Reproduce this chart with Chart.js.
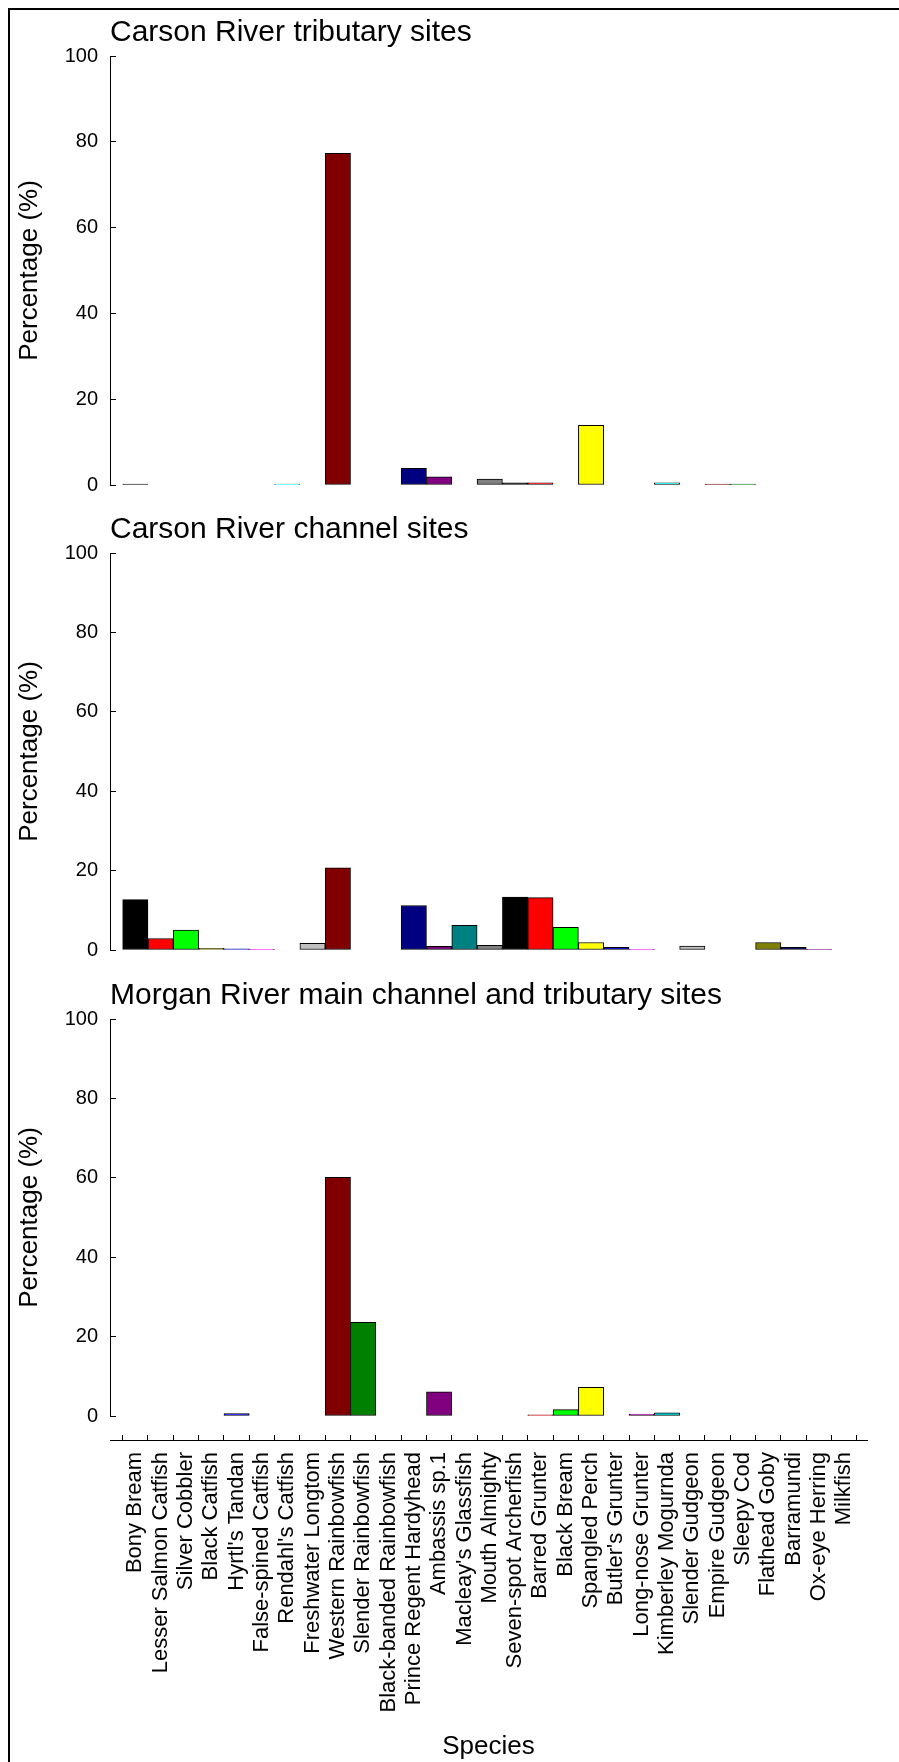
<!DOCTYPE html>
<html>
<head>
<meta charset="utf-8">
<script src="https://cdn.jsdelivr.net/npm/chart.js@4.4.1/dist/chart.umd.min.js"></script>
<style>
  body { margin: 0; background: #fff; }
  #page { position: relative; width: 899px; height: 1762px; overflow: hidden; background: #fff; }
  #frame { position: absolute; left: 8px; top: 8px; right: -20px; bottom: -20px; border-left: 2px solid #000; border-top: 2px solid #000; }
  canvas { position: absolute; left: 0; }
</style>
</head>
<body>
<div id="page">
  <div id="frame"></div>
  <canvas id="tributary" style="top:0px" width="899" height="515"></canvas>
  <canvas id="channel" style="top:515px" width="899" height="465"></canvas>
  <canvas id="morgan" style="top:980px" width="899" height="466"></canvas>
  <canvas id="axis" style="top:1432px" width="899" height="330"></canvas>
</div>
<script>
const species = [
  'Bony Bream', 'Lesser Salmon Catfish', 'Silver Cobbler', 'Black Catfish', "Hyrtl's Tandan",
  'False-spined Catfish', "Rendahl's Catfish", 'Freshwater Longtom', 'Western Rainbowfish', 'Slender Rainbowfish',
  'Black-banded Rainbowfish', 'Prince Regent Hardyhead', 'Ambassis sp.1', "Macleay's Glassfish", 'Mouth Almighty',
  'Seven-spot Archerfish', 'Barred Grunter', 'Black Bream', 'Spangled Perch', "Butler's Grunter",
  'Long-nose Grunter', 'Kimberley Mogurnda', 'Slender Gudgeon', 'Empire Gudgeon', 'Sleepy Cod',
  'Flathead Goby', 'Barramundi', 'Ox-eye Herring', 'Milkfish'
]

// percentages, one value per species
const tributaryValues = [0.2, 0, 0, 0, 0, 0, 0.2, 0, 77.3, 0, 0, 3.9, 1.9, 0, 1.4, 0.5, 0.5, 0, 13.9, 0, 0, 0.5, 0, 0.2, 0.2, 0, 0, 0, 0]
const channelValues = [12.7, 2.9, 5.0, 0.4, 0.3, 0.2, 0, 1.7, 20.7, 0, 0, 11.2, 0.9, 6.2, 1.2, 13.3, 13.2, 5.7, 1.9, 0.7, 0.2, 0, 1.0, 0, 0, 1.9, 0.7, 0.2, 0]
const morganValues = [0, 0, 0, 0, 0.6, 0, 0, 0, 60.1, 23.6, 0, 0, 6.1, 0, 0, 0, 0.3, 1.6, 7.2, 0, 0.5, 0.8, 0, 0, 0, 0, 0, 0, 0]

const panelTitles = ['Carson River tributary sites', 'Carson River channel sites', 'Morgan River main channel and tributary sites']
const yTicks = [0, 20, 40, 60, 80, 100]

const palette = ['#000000', '#ff0000', '#00ff00', '#ffff00', '#0000ff', '#ff00ff', '#00ffff', '#c0c0c0',
  '#800000', '#008000', '#808000', '#000080', '#800080', '#008080', '#808080']

const fontFamily = '"Liberation Sans", Arial, sans-serif'
Chart.defaults.font.family = fontFamily
Chart.defaults.color = '#000'

const panelTitle = {
  id: 'panelTitle',
  afterDraw(chart, args, options) {
    const { ctx, chartArea } = chart
    ctx.save()
    ctx.font = '30px ' + fontFamily
    ctx.fillStyle = '#000'
    ctx.textAlign = 'left'
    ctx.textBaseline = 'alphabetic'
    ctx.fillText(options.text, chartArea.left, chartArea.top - 15)
    ctx.restore()
  }
}

function speciesTicks(scale) {
  scale.ticks = species.map((name, i) => ({ value: i }))
}

// the y scale reserves ~30px under the plot for its "0" label (label + tick padding)
function makePanel(id, title, values, padTop) {
  return new Chart(document.getElementById(id), {
    type: 'bar',
    data: {
      datasets: [{
        data: values.map((v, i) => ({ x: i, y: v > 0 ? v : null })),
        backgroundColor: species.map((name, i) => palette[i % palette.length]),
        borderColor: '#000',
        borderWidth: 1,
        borderSkipped: false,
        categoryPercentage: 1,
        barPercentage: 1
      }]
    },
    options: {
      responsive: false,
      animation: false,
      layout: { padding: { left: 0, right: 32, top: padTop, bottom: 0 } },
      plugins: {
        legend: { display: false },
        tooltip: { enabled: false },
        panelTitle: { text: title }
      },
      scales: {
        x: {
          type: 'linear',
          min: -1,
          max: 28.9,
          offset: false,
          display: false,
          afterBuildTicks: speciesTicks
        },
        y: {
          min: 0,
          max: 100,
          afterBuildTicks: s => { s.ticks = yTicks.map(v => ({ value: v })) },
          afterFit: s => { s.width = 110 },
          ticks: { padding: 18, color: '#000', font: { size: 20 } },
          grid: { drawOnChartArea: false, drawTicks: true, tickLength: -6, color: '#000' },
          border: { color: '#000', width: 1 },
          title: {
            display: true,
            text: 'Percentage (%)',
            color: '#000',
            font: { size: 26 },
            padding: { top: 14, bottom: 0 }
          }
        }
      }
    },
    plugins: [panelTitle]
  })
}

const tributaryChart = makePanel('tributary', panelTitles[0], tributaryValues, 56)
const channelChart = makePanel('channel', panelTitles[1], channelValues, 38)
const morganChart = makePanel('morgan', panelTitles[2], morganValues, 39)

// shared species axis under the last panel
const axisChart = new Chart(document.getElementById('axis'), {
  type: 'bar',
  data: { datasets: [{ data: [] }] },
  options: {
    responsive: false,
    animation: false,
    layout: { padding: { left: 110, right: 32, top: 2, bottom: 0 } },
    plugins: { legend: { display: false }, tooltip: { enabled: false } },
    scales: {
      x: {
        type: 'linear',
        min: -1,
        max: 28.9,
        offset: false,
        afterBuildTicks: speciesTicks,
        afterFit: s => { s.height = 322 },
        ticks: {
          autoSkip: false,
          minRotation: 90,
          maxRotation: 90,
          padding: 17,
          color: '#000',
          font: { size: 22 },
          callback: v => species[v]
        },
        grid: { drawOnChartArea: false, drawTicks: true, tickLength: -5, color: '#000' },
        border: { color: '#000', width: 1 },
        title: { display: true, text: 'Species', color: '#000', font: { size: 26 }, padding: { top: 0, bottom: 0 } }
      },
      y: { display: false, min: 0, max: 1 }
    }
  }
})
</script>
</body>
</html>
